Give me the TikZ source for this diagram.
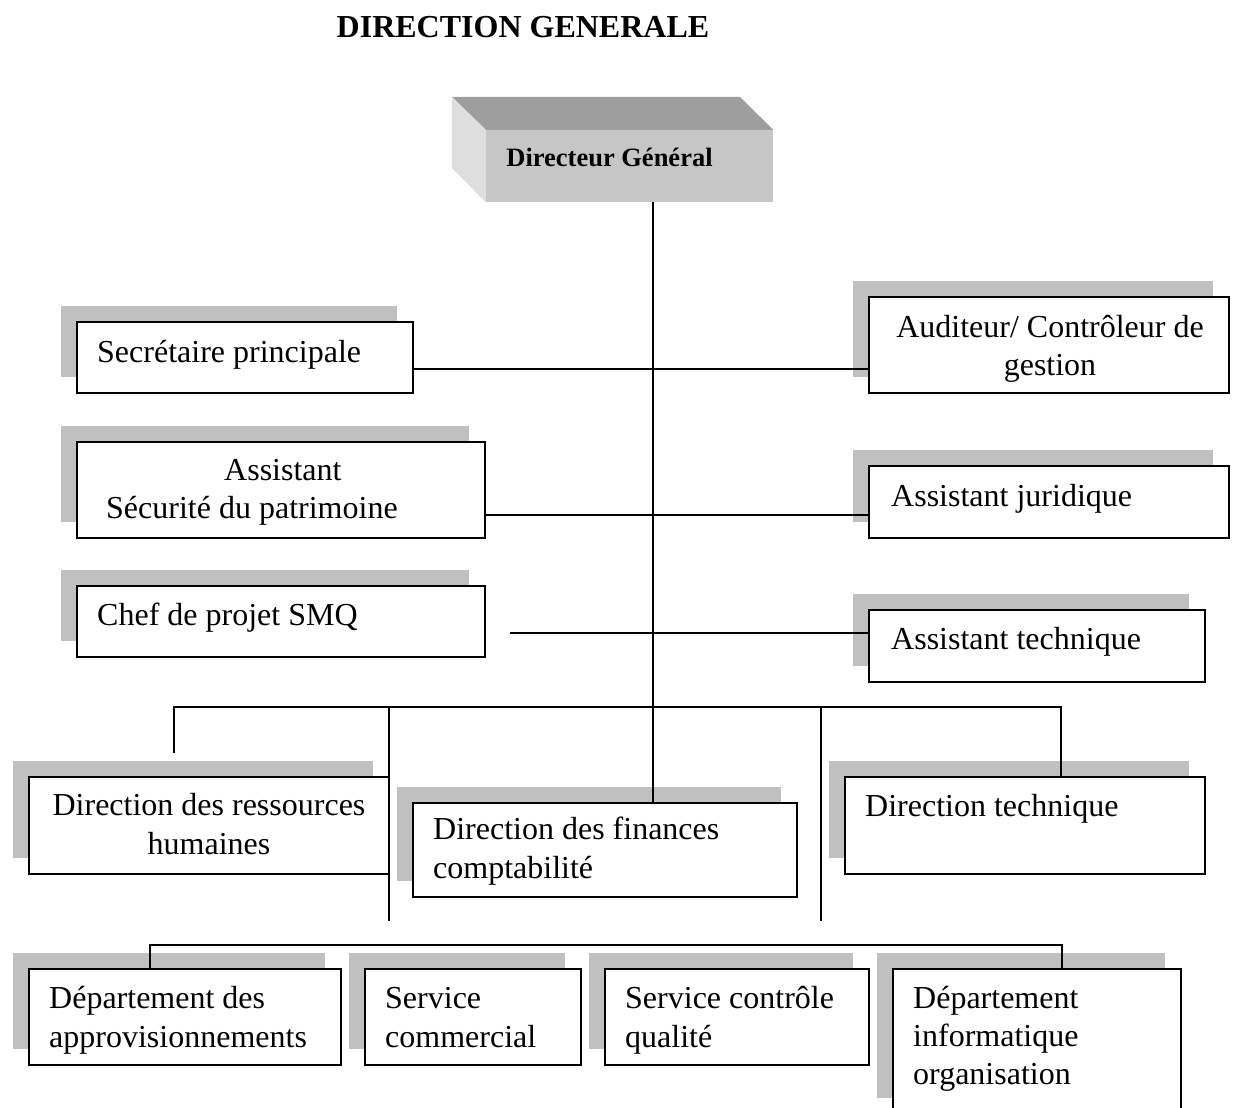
\documentclass[tikz,border=0pt]{standalone}
\usepackage{fontspec}
\setmainfont{Liberation Serif}
\usetikzlibrary{shadows}

\definecolor{shadegray}{RGB}{192,192,192}
\definecolor{facefront}{RGB}{198,198,198}
\definecolor{facetop}{RGB}{158,158,158}
\definecolor{faceside}{RGB}{222,222,222}

\begin{document}
\begin{tikzpicture}[x=1pt,y=-1pt,
  orgbox/.style={draw=black, line width=1.4pt, fill=white, inner sep=0pt,
    minimum width=#1, drop shadow={shadow xshift=-16pt, shadow yshift=16pt,
    opacity=1, fill=shadegray}},
  bh/.style={minimum height=#1},
  txt/.style={inner sep=0pt, anchor=base west, font=\fontsize{32}{39}\selectfont},
  ctxt/.style={txt, anchor=base},
  link/.style={draw=black, line width=1.4pt}]
\useasboundingbox (0,0) rectangle (1237,1108);
\clip (0,0) rectangle (1237,1108);

% title
\node[ctxt, font=\fontsize{32}{39}\selectfont\bfseries] (title) at (523,38) {DIRECTION GENERALE};

% general manager block (3-D box)
\node[fill=facefront, inner sep=0pt, minimum width=287pt, minimum height=72pt] (dg) at (629.5,166) {};
\fill[facetop] (dg.north west) -- ++(-34,-33) -- ++(288,0) -- (dg.north east) -- cycle;
\fill[faceside] (dg.north west) -- ++(-34,-33) -- ++(0,71) -- (dg.south west) -- cycle;
\node[inner sep=0pt, anchor=base, font=\fontsize{26.5}{30}\selectfont\bfseries] (dgt) at (609.5,166) {Directeur Général};

% staff boxes
\node[orgbox=336pt, bh=71pt] (sec) at (245,357.5) {};
\node[orgbox=360pt, bh=96pt] (aud) at (1049,345) {};
\node[orgbox=408pt, bh=96pt] (ass) at (281,490) {};
\node[orgbox=360pt, bh=72pt] (jur) at (1049,502) {};
\node[orgbox=408pt, bh=71pt] (smq) at (281,621.5) {};
\node[orgbox=336pt, bh=72pt] (tec) at (1037,646) {};

% directions
\node[orgbox=360pt, bh=97pt] (rh) at (209,825.5) {};
\node[orgbox=384pt, bh=94pt] (fin) at (605,850) {};
\node[orgbox=360pt, bh=97pt] (dt) at (1025,825.5) {};

% departments and services
\node[orgbox=312pt, bh=96pt] (app) at (185,1017) {};
\node[orgbox=216pt, bh=96pt] (com) at (473,1017) {};
\node[orgbox=264pt, bh=96pt] (qua) at (737,1017) {};
\node[orgbox=288pt, bh=145pt] (inf) at (1037,1041.5) {};

% box texts
\node[txt] (sec-t) at (97,362) {Secrétaire principale};
\node[ctxt] (aud-t1) at (1050,337) {Auditeur/ Contrôleur de};
\node[ctxt] (aud-t2) at (1050,375) {gestion};
\node[txt] (ass-t1) at (224,480) {Assistant};
\node[txt] (ass-t2) at (106,518) {Sécurité du patrimoine};
\node[txt] (jur-t) at (891,506) {Assistant juridique};
\node[txt] (smq-t) at (97,625) {Chef de projet SMQ};
\node[txt] (tec-t) at (891,649) {Assistant technique};
\node[ctxt] (rh-t1) at (209,815) {Direction des ressources};
\node[ctxt] (rh-t2) at (209,854) {humaines};
\node[txt] (fin-t1) at (433,839) {Direction des finances};
\node[txt] (fin-t2) at (433,878) {comptabilité};
\node[txt] (dt-t) at (865,816) {Direction technique};
\node[txt] (app-t1) at (49,1008) {Département des};
\node[txt] (app-t2) at (49,1047) {approvisionnements};
\node[txt] (com-t1) at (385,1008) {Service};
\node[txt] (com-t2) at (385,1047) {commercial};
\node[txt] (qua-t1) at (625,1008) {Service contrôle};
\node[txt] (qua-t2) at (625,1047) {qualité};
\node[txt] (inf-t1) at (913,1008) {Département};
\node[txt] (inf-t2) at (913,1046) {informatique};
\node[txt] (inf-t3) at (913,1084) {organisation};

% reference points for the connector routing
\coordinate (trunk) at (653,0);
\coordinate (row1) at (0,369);
\coordinate (row2) at (0,515);
\coordinate (row3) at (0,633);
\coordinate (smqend) at (510,633);
\coordinate (rhdrop) at (174,753);
\coordinate (dtbus) at (1061,707);
\coordinate (lbus) at (389,707);
\coordinate (lbusend) at (389,921);
\coordinate (rbus) at (821,707);
\coordinate (rbusend) at (821,921);
\coordinate (lowl) at (150,945);
\coordinate (lowr) at (1062,945);

% connectors
\draw[link] (dg.south -| trunk) -- (fin.north -| trunk);
\draw[link] (sec.east |- row1) -- (aud.west |- row1);
\draw[link] (ass.east |- row2) -- (jur.west |- row2);
\draw[link] (smqend) -- (tec.west |- row3);
\draw[link] (rhdrop) |- (dtbus) -- (dtbus |- dt.north);
\draw[link] (lbus) -- (lbusend);
\draw[link] (rbus) -- (rbusend);
\draw[link] (app.north -| lowl) -- (lowl) -- (lowr) -- (lowr |- inf.north);
\end{tikzpicture}
\end{document}
